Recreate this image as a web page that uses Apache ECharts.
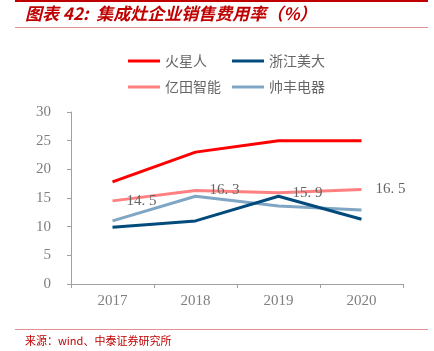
<!DOCTYPE html>
<html><head><meta charset="utf-8">
<script src="https://cdn.jsdelivr.net/npm/echarts@6/dist/echarts.min.js"></script>
<style>html,body{margin:0;padding:0;background:#fff}#c{width:434px;height:351px}</style>
</head><body><div id="c"></div>
<script>
const categories = ['2017', '2018', '2019', '2020'];
const huoxingren = [17.8, 23.0, 25.0, 25.0];
const meida = [9.9, 11.0, 15.3, 11.3];
const yitian = [14.5, 16.3, 15.9, 16.5];
const shuaifeng = [11.0, 15.3, 13.6, 12.9];
const names = ['火星人', '浙江美大', '亿田智能', '帅丰电器'];
const colors = ['#FF0000', '#004B7C', '#FF8080', '#7FA6C4'];

const chart = echarts.init(document.getElementById('c'));
const serif = '"Liberation Serif", "DejaVu Serif", serif';
const cjk = '"Noto Sans CJK SC", sans-serif';
function legend(name, left, top) {
  return { data: [name], left: left, top: top, itemWidth: 32, itemHeight: 3, itemGap: 0,
    icon: 'rect', textStyle: { fontFamily: cjk, fontSize: 14, color: '#666' } };
}
chart.setOption({
  animation: false,
  legend: [
    legend(names[0], 123, 49), legend(names[1], 227, 49),
    legend(names[2], 123, 75), legend(names[3], 227, 75)
  ],
  grid: { left: 71, right: 31, top: 112, bottom: 67 },
  xAxis: {
    type: 'category', data: categories, boundaryGap: true,
    axisLine: { lineStyle: { color: '#A0A0A0', width: 1 } },
    axisTick: { show: true, length: 4, lineStyle: { color: '#A0A0A0' } },
    axisLabel: { fontFamily: serif, fontSize: 15, color: '#7F7F7F', margin: 10 }
  },
  yAxis: {
    type: 'value', min: 0, max: 30, interval: 5,
    splitLine: { show: false },
    axisLine: { show: true, lineStyle: { color: '#A0A0A0', width: 1 } },
    axisTick: { show: true, length: 4, lineStyle: { color: '#A0A0A0' } },
    axisLabel: { fontFamily: serif, fontSize: 15, color: '#7F7F7F', margin: 20 }
  },
  series: [
    { name: names[0], type: 'line', data: huoxingren, symbol: 'none', lineStyle: { width: 3, color: colors[0] }, itemStyle: { color: colors[0] }, z: 4 },
    { name: names[1], type: 'line', data: meida, symbol: 'none', lineStyle: { width: 3, color: colors[1] }, itemStyle: { color: colors[1] }, z: 3 },
    { name: names[2], type: 'line', data: yitian, symbol: 'circle', symbolSize: 0, showSymbol: true, lineStyle: { width: 3, color: colors[2] }, itemStyle: { color: colors[2] }, z: 2,
      label: { show: true, position: 'right', distance: 14, fontFamily: serif, fontSize: 15, color: '#666', formatter: p => p.value.toFixed(1).replace('.', '. ') } },
    { name: names[3], type: 'line', data: shuaifeng, symbol: 'none', lineStyle: { width: 3, color: colors[3] }, itemStyle: { color: colors[3] }, z: 1 }
  ],
  graphic: [
    { type: 'rect', shape: { x: 15, y: 0, width: 413, height: 2 }, style: { fill: '#C00000' } },
    { type: 'text', left: 25, top: 5, style: { text: '图表 42:  集成灶企业销售费用率（%）', fontFamily: cjk, fontSize: 17, fontWeight: 'bold', fontStyle: 'italic', fill: '#C00000' } },
    { type: 'rect', shape: { x: 15, y: 27, width: 413, height: 1 }, style: { fill: '#E09090' } },
    { type: 'rect', shape: { x: 15, y: 329, width: 413, height: 1 }, style: { fill: '#E09090' } },
    { type: 'text', left: 25, top: 335, style: { text: '来源：wind、中泰证券研究所', fontFamily: cjk, fontSize: 11, fill: '#C00000' } }
  ]
});
</script></body></html>
